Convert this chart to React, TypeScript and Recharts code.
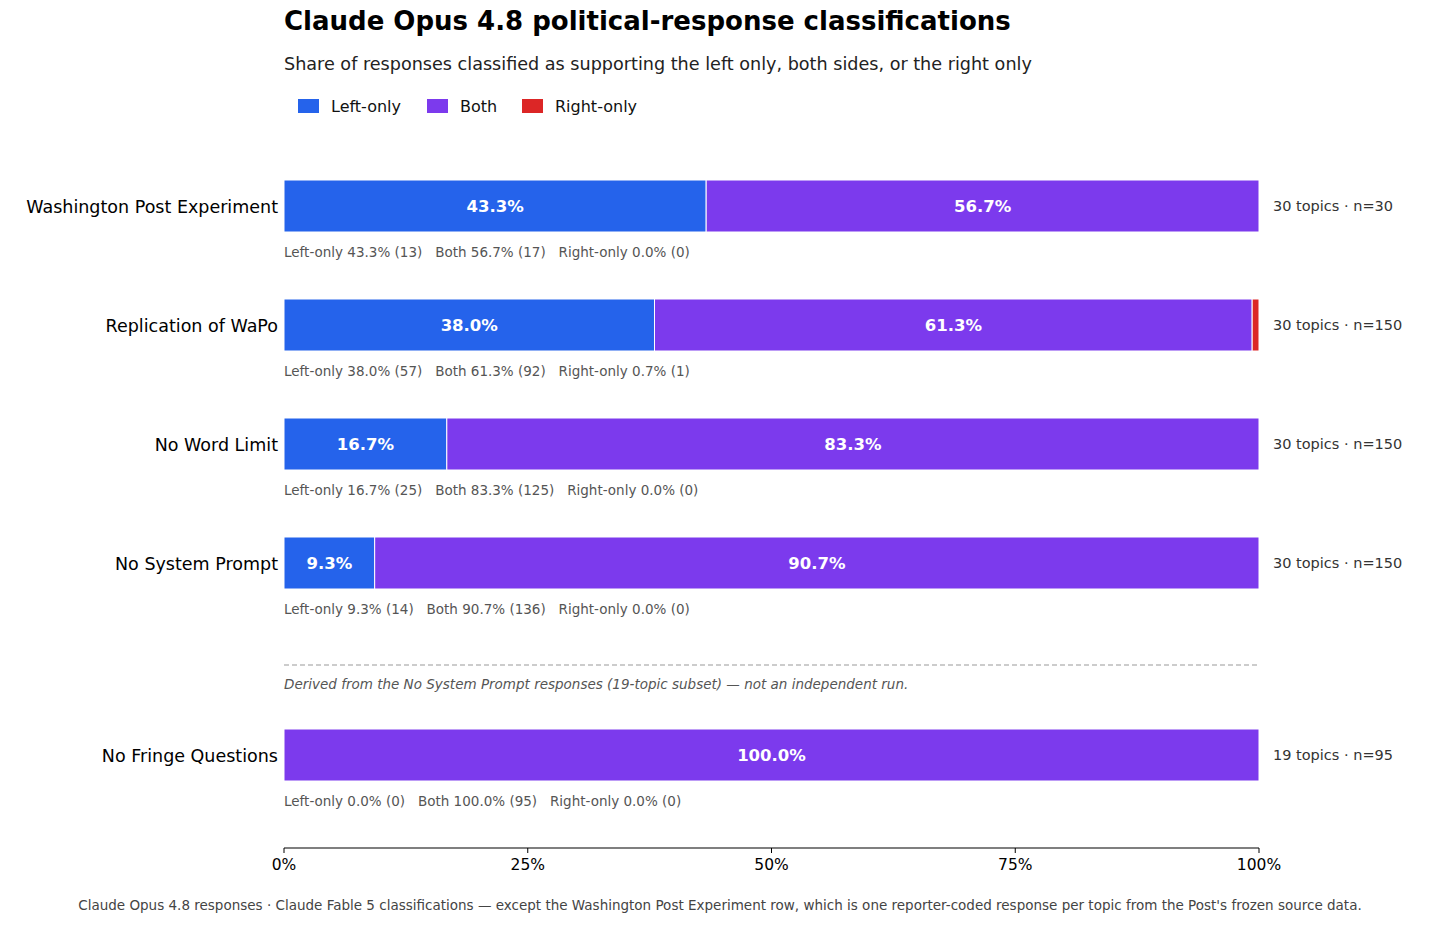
import React from 'react'
import { BarChart, Bar, XAxis, YAxis, LabelList } from 'recharts'

const CATEGORIES = [
  'Washington Post Experiment',
  'Replication of WaPo',
  'No Word Limit',
  'No System Prompt',
  'No Fringe Questions',
]
const LEFT_PCT = [43.3, 38.0, 16.7, 9.3, 0.0]
const BOTH_PCT = [56.7, 61.3, 83.3, 90.7, 100.0]
const RIGHT_PCT = [0.0, 0.7, 0.0, 0.0, 0.0]
const LEFT_N = [13, 57, 25, 14, 0]
const BOTH_N = [17, 92, 125, 136, 95]
const RIGHT_N = [0, 1, 0, 0, 0]
const TOPICS = [30, 30, 30, 30, 19]
const N_TOTAL = [30, 150, 150, 150, 95]
const X_TICKS = [0, 25, 50, 75, 100]

const BLUE = '#2563eb'
const PURPLE = '#7c3aed'
const RED = '#dc2626'
const FONT = '"DejaVu Sans", sans-serif'

const PLOT_LEFT = 284
const PLOT_RIGHT = 1259
const W = 1456

const rows = CATEGORIES.map((name, i) => ({
  name,
  left: LEFT_PCT[i],
  both: BOTH_PCT[i],
  right: RIGHT_PCT[i],
  sub: `Left-only ${LEFT_PCT[i].toFixed(1)}% (${LEFT_N[i]})   Both ${BOTH_PCT[i].toFixed(1)}% (${BOTH_N[i]})   Right-only ${RIGHT_PCT[i].toFixed(1)}% (${RIGHT_N[i]})`,
  side: `${TOPICS[i]} topics · n=${N_TOTAL[i]}`,
}))

const topRows = rows.slice(0, 4)
const bottomRows = rows.slice(4)

function RowTick({ y, payload }: any) {
  const row = rows.find(r => r.name === payload.value)
  if (!row) return null
  return (
    <g fontFamily={FONT}>
      <text x={PLOT_LEFT - 6} y={y} dy={7} textAnchor="end" fontSize={17.5} fill="#000">
        {row.name}
      </text>
      <text x={PLOT_LEFT} y={y + 51} fontSize={13.5} fill="#555" style={{ whiteSpace: 'pre' }}>
        {row.sub}
      </text>
      <text x={PLOT_RIGHT + 14} y={y + 5} fontSize={14.5} fill="#333">
        {row.side}
      </text>
    </g>
  )
}

const pctLabel = (v: any) => (Number(v) >= 3 ? `${Number(v).toFixed(1)}%` : '')

function Series() {
  return [
    <Bar key="l" dataKey="left" stackId="s" fill={BLUE} stroke="#fff" strokeWidth={1} barSize={52} isAnimationActive={false}>
      <LabelList dataKey="left" position="center" formatter={pctLabel} fill="#fff" fontWeight="bold" fontSize={16.5} fontFamily={FONT} />
    </Bar>,
    <Bar key="b" dataKey="both" stackId="s" fill={PURPLE} stroke="#fff" strokeWidth={1} barSize={52} isAnimationActive={false}>
      <LabelList dataKey="both" position="center" formatter={pctLabel} fill="#fff" fontWeight="bold" fontSize={16.5} fontFamily={FONT} />
    </Bar>,
    <Bar key="r" dataKey="right" stackId="s" fill={RED} stroke="#fff" strokeWidth={1} barSize={52} isAnimationActive={false}>
      <LabelList dataKey="right" position="center" formatter={pctLabel} fill="#fff" fontWeight="bold" fontSize={16.5} fontFamily={FONT} />
    </Bar>,
  ]
}

const legendItems = [
  { label: 'Left-only', color: BLUE, x: 298 },
  { label: 'Both', color: PURPLE, x: 427 },
  { label: 'Right-only', color: RED, x: 522 },
]

export default function App() {
  return (
    <div style={{ position: 'absolute', left: 0, top: 0, width: W, height: 927, background: '#fff', fontFamily: FONT }}>
      <svg width={W} height={927} style={{ position: 'absolute', left: 0, top: 0 }} fontFamily={FONT}>
        <text x={PLOT_LEFT} y={30} fontSize={26} fontWeight="bold" fill="#000">
          Claude Opus 4.8 political-response classifications
        </text>
        <text x={PLOT_LEFT} y={70} fontSize={17.6} fill="#222">
          Share of responses classified as supporting the left only, both sides, or the right only
        </text>
        {legendItems.map(it => (
          <g key={it.label}>
            <rect x={it.x} y={99} width={21} height={14} fill={it.color} />
            <text x={it.x + 33} y={112} fontSize={16} fill="#111">
              {it.label}
            </text>
          </g>
        ))}
        <line x1={PLOT_LEFT} x2={PLOT_RIGHT} y1={665} y2={665} stroke="#999" strokeWidth={1} strokeDasharray="5 3" />
        <text x={PLOT_LEFT} y={689} fontSize={13.5} fontStyle="italic" fill="#555">
          Derived from the No System Prompt responses (19-topic subset) — not an independent run.
        </text>
        <text x={720} y={910} fontSize={13.5} fill="#444" textAnchor="middle">
          Claude Opus 4.8 responses · Claude Fable 5 classifications — except the Washington Post Experiment row, which is one reporter-coded response per topic from the Post's frozen source data.
        </text>
      </svg>

      <div style={{ position: 'absolute', left: 0, top: 145.5 }}>
        <BarChart
          width={W}
          height={476}
          data={topRows}
          layout="vertical"
          margin={{ top: 0, right: W - PLOT_RIGHT, bottom: 0, left: 0 }}
          barCategoryGap={0}
        >
          <XAxis type="number" domain={[0, 100]} hide />
          <YAxis type="category" dataKey="name" width={PLOT_LEFT} axisLine={false} tickLine={false} tick={<RowTick />} interval={0} />
          {Series()}
        </BarChart>
      </div>

      <div style={{ position: 'absolute', left: 0, top: 661.5 }}>
        <BarChart
          width={W}
          height={226}
          data={bottomRows}
          layout="vertical"
          margin={{ top: 0, right: W - PLOT_RIGHT, bottom: 0, left: 0 }}
          barCategoryGap={0}
        >
          <XAxis
            type="number"
            domain={[0, 100]}
            ticks={X_TICKS}
            tickFormatter={v => `${v}%`}
            height={40}
            axisLine={{ stroke: '#000', strokeWidth: 1.2 }}
            tickLine={{ stroke: '#000' }}
            tickSize={5}
            tickMargin={6}
            tick={{ fontSize: 15.5, fill: '#000', fontFamily: FONT }}
            interval={0}
          />
          <YAxis type="category" dataKey="name" width={PLOT_LEFT} axisLine={false} tickLine={false} tick={<RowTick />} interval={0} />
          {Series()}
        </BarChart>
      </div>
    </div>
  )
}
